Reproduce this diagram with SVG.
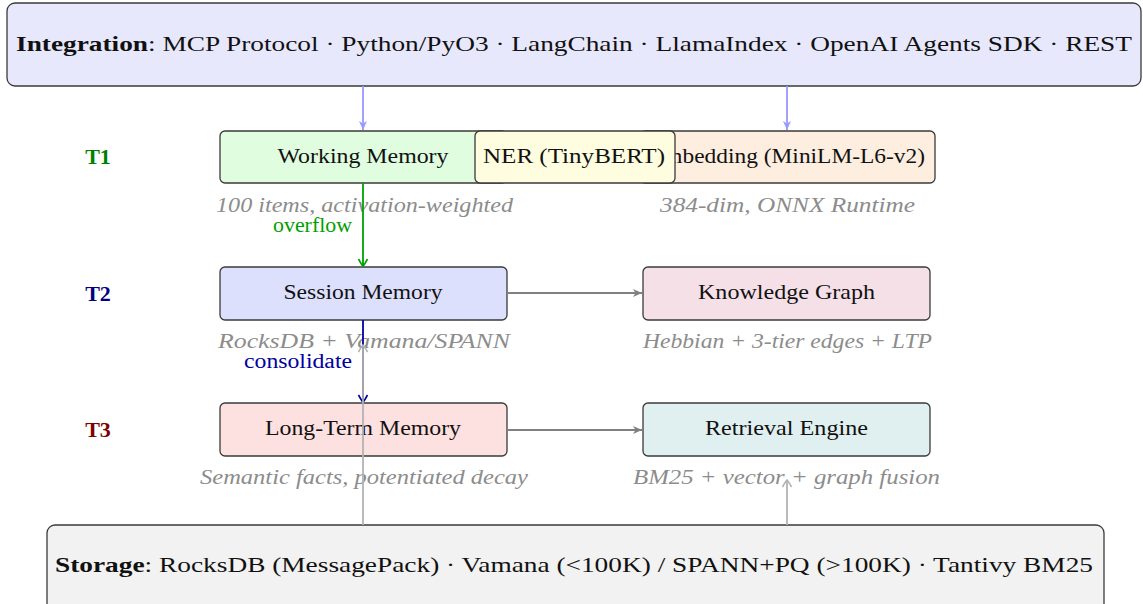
<svg xmlns="http://www.w3.org/2000/svg" width="1143" height="604" viewBox="0 0 1143 604">
<style>
.node{stroke:#3a3a3a;stroke-width:1.3}
.lbl{font-family:"Liberation Serif","Times New Roman",serif;font-size:22px;fill:#111;text-anchor:middle}
.sub{font-family:"Liberation Serif","Times New Roman",serif;font-style:italic;font-size:20px;fill:#8c8c8c;text-anchor:middle}
.tier{font-family:"Liberation Serif","Times New Roman",serif;font-weight:bold;font-size:22px;text-anchor:middle}
.edge{fill:none;stroke-width:1.8}
</style>
<defs>
<marker id="aInt" markerUnits="userSpaceOnUse" markerWidth="12" markerHeight="12" viewBox="-10 -6 11 12" refX="0" refY="0" orient="auto"><path d="M0,0 L-9,-4 L-6.5,0 L-9,4 Z" fill="#9999ff"/></marker>
<marker id="aGray" markerUnits="userSpaceOnUse" markerWidth="12" markerHeight="12" viewBox="-10 -6 11 12" refX="0" refY="0" orient="auto"><path d="M0,0 L-9,-4 L-6.5,0 L-9,4 Z" fill="#808080"/></marker>
<marker id="aGreen" markerUnits="userSpaceOnUse" markerWidth="12" markerHeight="12" viewBox="-10 -6 11 12" refX="0" refY="0" orient="auto"><path d="M-7,-4.5 Q-1.5,-1.5 0,0 Q-1.5,1.5 -7,4.5" fill="none" stroke="#00a000" stroke-width="1.6"/></marker>
<marker id="aBlue" markerUnits="userSpaceOnUse" markerWidth="12" markerHeight="12" viewBox="-10 -6 11 12" refX="0" refY="0" orient="auto"><path d="M-7,-4.5 Q-1.5,-1.5 0,0 Q-1.5,1.5 -7,4.5" fill="none" stroke="#0000a0" stroke-width="1.6"/></marker>
<marker id="aLight" markerUnits="userSpaceOnUse" markerWidth="12" markerHeight="12" viewBox="-10 -6 11 12" refX="0" refY="0" orient="auto"><path d="M-7,-4.5 Q-1.5,-1.5 0,0 Q-1.5,1.5 -7,4.5" fill="none" stroke="#b3b3b3" stroke-width="1.6"/></marker>
</defs>
<rect width="1143" height="604" fill="#fff"/>

<g id="integration">
<rect class="node" x="7" y="3" width="1134" height="83" rx="8" fill="#e8e8fc"/>
<text class="lbl" x="574" y="51" textLength="1116" lengthAdjust="spacingAndGlyphs"><tspan font-weight="bold">Integration</tspan>: MCP Protocol · Python/PyO3 · LangChain · LlamaIndex · OpenAI Agents SDK · REST</text>
</g>

<g id="tier-labels">
<text class="tier" x="98" y="164" fill="#008000">T1</text>
<text class="tier" x="98" y="301" fill="#000080">T2</text>
<text class="tier" x="98" y="437" fill="#800000">T3</text>
</g>

<g id="working-memory">
<rect class="node" x="220" y="131" width="287" height="52" rx="5" fill="#e0fde0"/>
<text class="lbl" x="363" y="163" textLength="171" lengthAdjust="spacingAndGlyphs">Working Memory</text>
<text class="sub" x="364.5" y="212" textLength="297" lengthAdjust="spacingAndGlyphs">100 items, activation-weighted</text>
</g>

<g id="embedding">
<rect class="node" x="640" y="131" width="295" height="52" rx="5" fill="#fdeee0"/>
<text class="lbl" x="787.5" y="163" textLength="275" lengthAdjust="spacingAndGlyphs">Embedding (MiniLM-L6-v2)</text>
<text class="sub" x="787.5" y="212" textLength="255" lengthAdjust="spacingAndGlyphs">384-dim, ONNX Runtime</text>
</g>

<g id="ner">
<rect class="node" x="475" y="131" width="200" height="52" rx="5" fill="#fffde0"/>
<text class="lbl" x="574" y="163" textLength="182" lengthAdjust="spacingAndGlyphs">NER (TinyBERT)</text>
</g>

<g id="session-memory">
<rect class="node" x="220" y="267" width="287" height="53" rx="5" fill="#dde0fd"/>
<text class="lbl" x="363" y="299" textLength="159" lengthAdjust="spacingAndGlyphs">Session Memory</text>
<text class="sub" x="364" y="348" textLength="292" lengthAdjust="spacingAndGlyphs">RocksDB + Vamana/SPANN</text>
</g>

<g id="knowledge-graph">
<rect class="node" x="643" y="267" width="287" height="53" rx="5" fill="#f5e0e8"/>
<text class="lbl" x="786.5" y="299" textLength="177" lengthAdjust="spacingAndGlyphs">Knowledge Graph</text>
<text class="sub" x="787.5" y="348" textLength="289" lengthAdjust="spacingAndGlyphs">Hebbian + 3-tier edges + LTP</text>
</g>

<g id="long-term-memory">
<rect class="node" x="220" y="403" width="287" height="53" rx="5" fill="#fde0e0"/>
<text class="lbl" x="363" y="435" textLength="196" lengthAdjust="spacingAndGlyphs">Long-Term Memory</text>
<text class="sub" x="364" y="484" textLength="328" lengthAdjust="spacingAndGlyphs">Semantic facts, potentiated decay</text>
</g>

<g id="retrieval-engine">
<rect class="node" x="643" y="403" width="287" height="53" rx="5" fill="#e0f0f0"/>
<text class="lbl" x="786.5" y="435" textLength="163" lengthAdjust="spacingAndGlyphs">Retrieval Engine</text>
<text class="sub" x="786.5" y="484" textLength="307" lengthAdjust="spacingAndGlyphs">BM25 + vector + graph fusion</text>
</g>

<g id="storage">
<rect class="node" x="47" y="525" width="1057" height="90" rx="8" fill="#f2f2f2"/>
<text class="lbl" x="574" y="572" textLength="1038" lengthAdjust="spacingAndGlyphs"><tspan font-weight="bold">Storage</tspan>: RocksDB (MessagePack) · Vamana (&lt;100K) / SPANN+PQ (&gt;100K) · Tantivy BM25</text>
</g>

<g id="connectors">
<line class="edge" x1="363" y1="86" x2="363" y2="130" stroke="#9999ff" marker-end="url(#aInt)"/>
<line class="edge" x1="787" y1="86" x2="787" y2="130" stroke="#9999ff" marker-end="url(#aInt)"/>
<line class="edge" x1="363" y1="183" x2="363" y2="266" stroke="#00a000" marker-end="url(#aGreen)"/>
<text x="352" y="232" font-family="Liberation Serif, serif" font-size="20" fill="#00a000" text-anchor="end" textLength="79" lengthAdjust="spacingAndGlyphs">overflow</text>
<line class="edge" x1="363" y1="320" x2="363" y2="402" stroke="#0000a0" marker-end="url(#aBlue)"/>
<text x="352" y="368" font-family="Liberation Serif, serif" font-size="20" fill="#0000a0" text-anchor="end" textLength="108" lengthAdjust="spacingAndGlyphs">consolidate</text>
<line class="edge" x1="507" y1="293" x2="642" y2="293" stroke="#808080" marker-end="url(#aGray)"/>
<line class="edge" x1="507" y1="430" x2="642" y2="430" stroke="#808080" marker-end="url(#aGray)"/>
<line class="edge" x1="363" y1="525" x2="363" y2="345" stroke="#b3b3b3" marker-end="url(#aLight)"/>
<line class="edge" x1="787" y1="525" x2="787" y2="480" stroke="#b3b3b3" marker-end="url(#aLight)"/>
</g>
</svg>
